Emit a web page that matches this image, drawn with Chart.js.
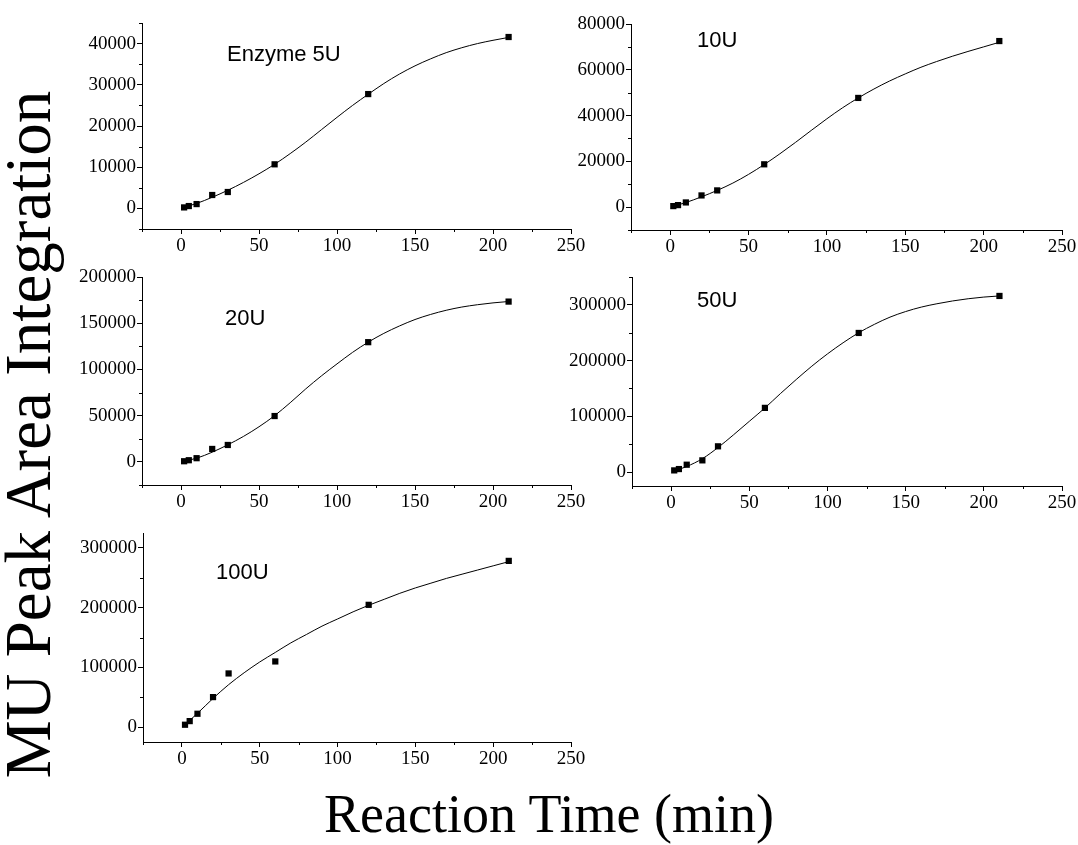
<!DOCTYPE html>
<html>
<head>
<meta charset="utf-8">
<script src="https://cdn.jsdelivr.net/npm/chart.js@4"></script>
<style>
  html, body { margin: 0; padding: 0; background: #fff; overflow: hidden; }
  body { width: 1078px; height: 845px; position: relative; }
  canvas { position: absolute; }
  .title { position: absolute; font-family: "Liberation Serif", "Times New Roman", serif; color: #000; white-space: nowrap; }
  #ytitle { font-size: 65px; line-height: 65px; width: 800px; text-align: center; left: -371.9px; top: 401.5px; transform: rotate(-90deg); }
  #xtitle { font-size: 54px; line-height: 54px; width: 700px; text-align: center; left: 199px; top: 786.8px; }
</style>
</head>
<body>
<div id="ytitle" class="title">MU Peak Area Integration</div>
<div id="xtitle" class="title">Reaction Time (min)</div>

<script>
// measured points
const time = [2, 5, 10, 20, 30, 60, 120, 210];
const enzyme5U = [240, 570, 1050, 3250, 3980, 10700, 27750, 41600];
const enzyme10U = [440, 880, 2040, 5100, 7300, 18700, 47700, 72550];
const enzyme20U = [700, 1800, 4000, 14000, 18300, 49600, 129500, 173400];
const enzyme50U = [3000, 5400, 13200, 21000, 46200, 115200, 249600, 316000];
const enzyme100U = [3900, 10000, 22300, 50200, 89800, 109900, 204700, 278300];

// fitted curves
const fitTime = [2, 10, 20, 30, 40, 50, 60, 70, 80, 90, 100, 110, 120, 130, 140, 150, 160, 170, 180, 190, 200, 210];
const fit5U = [300, 1200, 2700, 4400, 6300, 8400, 10700, 13300, 16100, 19100, 22100, 25000, 27700, 30300, 32600, 34600, 36300, 37800, 39000, 40000, 40800, 41500];
const fit10U = [400, 2000, 4500, 7300, 10500, 14300, 18600, 23300, 28300, 33500, 38600, 43400, 47700, 51600, 55100, 58200, 61100, 63600, 65900, 68000, 70000, 72000];
const fit20U = [800, 4000, 10500, 18500, 27500, 38000, 50000, 64000, 79000, 93000, 106000, 118500, 129500, 139000, 147000, 154000, 159500, 164000, 167500, 170000, 172000, 173500];
const fit50U = [2000, 10000, 24000, 44000, 67000, 91000, 115000, 141000, 166000, 190000, 212000, 232000, 250000, 265000, 278000, 288000, 296000, 302000, 307000, 311000, 314000, 316000];
const fit100U = [4000, 23000, 48000, 71000, 91000, 109000, 125000, 141000, 155000, 169000, 181000, 193000, 204000, 214000, 224000, 233000, 241000, 249000, 256000, 263000, 270000, 277000];

// tick labels
const xTicks = [0, 50, 100, 150, 200, 250];
const yTicks5U = [0, 10000, 20000, 30000, 40000];
const yTicks10U = [0, 20000, 40000, 60000, 80000];
const yTicks20U = [0, 50000, 100000, 150000, 200000];
const yTicks50U = [0, 100000, 200000, 300000];
const yTicks100U = [0, 100000, 200000, 300000];

const panels = [
  { label: "Enzyme 5U", values: enzyme5U, fit: fit5U, yTicks: yTicks5U, yMin: -5000, yMax: 45000,
    box: { l: 142, t: 23, r: 571, b: 229 }, right: 30, labelAt: { x: 227, y: 61 } },
  { label: "10U", values: enzyme10U, fit: fit10U, yTicks: yTicks10U, yMin: -10000, yMax: 80000,
    box: { l: 631, t: 24, r: 1062, b: 230 }, right: 16, labelAt: { x: 697, y: 47 } },
  { label: "20U", values: enzyme20U, fit: fit20U, yTicks: yTicks20U, yMin: -25000, yMax: 200000,
    box: { l: 142, t: 277, r: 571, b: 485 }, right: 30, labelAt: { x: 225, y: 325 } },
  { label: "50U", values: enzyme50U, fit: fit50U, yTicks: yTicks50U, yMin: -25000, yMax: 350000,
    box: { l: 632, t: 277, r: 1062, b: 486 }, right: 16, labelAt: { x: 697, y: 307 } },
  { label: "100U", values: enzyme100U, fit: fit100U, yTicks: yTicks100U, yMin: -25000, yMax: 325000,
    box: { l: 143, t: 533, r: 571, b: 742 }, right: 30, labelAt: { x: 216, y: 579 } },
];

const LEFT = 100, TOP = 20, BOTTOM = 45;

Chart.defaults.font.family = "'Liberation Serif', 'Times New Roman', serif";
Chart.defaults.font.size = 19;
Chart.defaults.color = "#000";

// minor ticks halfway between the labelled ones
function minorOf(ticks, min, max) {
  const step = ticks[1] - ticks[0];
  const out = [];
  for (let i = -1; i < ticks.length; i++) {
    const v = (i < 0 ? ticks[0] : ticks[i]) + (i < 0 ? -step / 2 : step / 2);
    if (v >= min - 1e-9 && v <= max + 1e-9) out.push(v);
  }
  return out;
}

const minorTicks = {
  id: "minorTicks",
  afterDraw(chart, args, opts) {
    const { ctx, chartArea, scales } = chart;
    ctx.save();
    ctx.strokeStyle = "#000";
    ctx.lineWidth = 1;
    opts.x.forEach((v) => {
      const px = Math.round(scales.x.getPixelForValue(v)) + 0.5;
      ctx.beginPath();
      ctx.moveTo(px, chartArea.bottom);
      ctx.lineTo(px, chartArea.bottom + 3);
      ctx.stroke();
    });
    opts.y.forEach((v) => {
      const py = Math.round(scales.y.getPixelForValue(v)) + 0.5;
      ctx.beginPath();
      ctx.moveTo(chartArea.left, py);
      ctx.lineTo(chartArea.left - 3, py);
      ctx.stroke();
    });
    ctx.restore();
  },
};

const panelLabel = {
  id: "panelLabel",
  afterDraw(chart, args, opts) {
    const ctx = chart.ctx;
    ctx.save();
    ctx.font = "22px 'Liberation Sans', Arial, sans-serif";
    ctx.fillStyle = "#000";
    ctx.textBaseline = "alphabetic";
    ctx.fillText(opts.text, opts.x, opts.y);
    ctx.restore();
  },
};

function setTicks(list) {
  return (scale) => { scale.ticks = list.map((v) => ({ value: v })); };
}

panels.forEach((p) => {
  const b = p.box;
  const canvas = document.createElement("canvas");
  const w = b.r - b.l + LEFT + p.right;
  const h = b.b - b.t + TOP + BOTTOM;
  const left = b.l - LEFT, top = b.t - TOP;
  canvas.width = w;
  canvas.height = h;
  canvas.style.left = left + "px";
  canvas.style.top = top + "px";
  canvas.style.width = w + "px";
  canvas.style.height = h + "px";
  document.body.appendChild(canvas);

  const axisStyle = {
    border: { display: true, color: "#000", width: 1 },
    grid: { drawOnChartArea: false, drawTicks: true, tickLength: 5, color: "#000", tickColor: "#000", lineWidth: 1 },
  };

  new Chart(canvas.getContext("2d"), {
    type: "scatter",
    data: {
      datasets: [
        {
          data: time.map((t, i) => ({ x: t, y: p.values[i] })),
          pointStyle: "rect",
          pointRadius: 4.4,
          backgroundColor: "#000",
          borderColor: "#000",
          borderWidth: 0,
        },
        {
          data: fitTime.map((t, i) => ({ x: t, y: p.fit[i] })),
          showLine: true,
          pointRadius: 0,
          borderColor: "#000",
          borderWidth: 1,
          cubicInterpolationMode: "monotone",
        },
      ],
    },
    options: {
      responsive: false,
      animation: false,
      devicePixelRatio: 1,
      layout: { padding: { left: 0, top: TOP, right: p.right, bottom: 0 } },
      plugins: {
        legend: { display: false },
        tooltip: { enabled: false },
        minorTicks: { x: minorOf(xTicks, -25, 250), y: minorOf(p.yTicks, p.yMin, p.yMax) },
        panelLabel: { text: p.label, x: p.labelAt.x - left, y: p.labelAt.y - top },
      },
      scales: {
        x: {
          type: "linear",
          min: -25,
          max: 250,
          afterBuildTicks: setTicks(xTicks),
          afterFit: (s) => { s.height = BOTTOM; s.paddingLeft = 0; s.paddingRight = 0; },
          ticks: { padding: 1, maxRotation: 0, autoSkip: false, callback: (v) => String(v) },
          ...axisStyle,
        },
        y: {
          type: "linear",
          min: p.yMin,
          max: p.yMax,
          afterBuildTicks: setTicks(p.yTicks),
          afterFit: (s) => { s.width = LEFT; s.paddingTop = 0; s.paddingBottom = 0; },
          ticks: { padding: 1, autoSkip: false, callback: (v) => String(v) },
          ...axisStyle,
        },
      },
    },
    plugins: [minorTicks, panelLabel],
  });
});
</script>
</body>
</html>
